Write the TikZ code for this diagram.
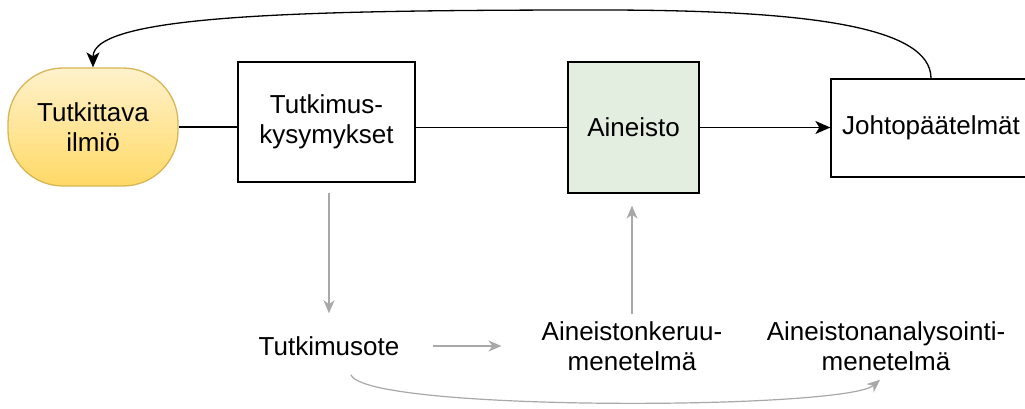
\documentclass[tikz,border=0pt]{standalone}
\usepackage{fontspec}
\setmainfont{Liberation Sans}
\usetikzlibrary{calc,positioning,arrows.meta}
\definecolor{ilmiotop}{HTML}{FFF2CC}
\definecolor{ilmiobot}{HTML}{FFD966}
\definecolor{ilmioline}{HTML}{D6B656}
\definecolor{aineistogreen}{HTML}{E3EEE0}
\definecolor{gray400}{HTML}{A8A8A8}

\tikzset{
    laatikko/.style={
        draw=black,
        line width=1.3pt,
        fill=white,
        align=center,
        inner sep=0pt,
        font=\fontsize{26}{30}\selectfont
    },
    teksti/.style={
        align=center,
        inner sep=3pt,
        font=\fontsize{26}{30}\selectfont
    },
    musta/.style={draw=black, line width=1.3pt},
    mustanuoli/.style={musta, -{Stealth[length=15pt,width=13pt,inset=4pt]}},
    harmaanuoli/.style={draw=gray400, line width=1.2pt, -{Stealth[length=13pt,width=11pt,inset=4pt]}}
}

\begin{document}
\begin{tikzpicture}[x=1pt,y=-1pt]
    \clip (0,0) rectangle (1025,409);

    % Ylarivi
    \node[
        laatikko,
        draw=ilmioline,
        top color=ilmiotop,
        bottom color=ilmiobot,
        rounded corners=55pt,
        minimum width=170pt,
        minimum height=118pt
    ] (ilmio) at (93,127) {Tutkittava\\ilmiö};

    \node[
        laatikko,
        minimum width=177pt,
        minimum height=120pt
    ] (kysymykset) at (326.5,122) {Tutkimus-\\kysymykset};

    \node[
        laatikko,
        fill=aineistogreen,
        minimum width=131pt,
        minimum height=131pt
    ] (aineisto) at (633.5,127.5) {Aineisto};

    \node[
        laatikko,
        minimum width=200pt,
        minimum height=98pt
    ] (johto) at (931,128) {Johtopäätelmät};

    % Alarivi
    \node[teksti] (tutkimusote) at (329,346) {Tutkimusote};
    \node[teksti] (keruu) at (632,346) {Aineistonkeruu-\\menetelmä};
    \node[teksti] (analyysi) at (886,346) {Aineistonanalysointi-\\menetelmä};

    % Yhteydet
    \draw[musta] (ilmio.east) -- (kysymykset.west |- ilmio.east);
    \draw[musta] (kysymykset.east |- aineisto.west) -- (aineisto.west);
    \draw[mustanuoli] (aineisto.east) -- (johto.west |- aineisto.east);
    \coordinate (ylin) at (600,10);
    \draw[mustanuoli] (johto.north) .. controls (931,25) and (800,10) .. (ylin)
        .. controls (300,10) and (93,15) .. (ilmio.north);

    \draw[harmaanuoli, shorten <=10pt, shorten >=20pt]
        (tutkimusote.north |- kysymykset.south) -- (tutkimusote.north);
    \draw[harmaanuoli, shorten <=30pt, shorten >=37pt]
        (tutkimusote.east) -- (keruu.west |- tutkimusote.east);
    \draw[harmaanuoli, shorten <=4pt, shorten >=12pt]
        (keruu.north) -- (keruu.north |- aineisto.south);
    \draw[harmaanuoli]
        ($(tutkimusote.south)+(22,16)$) .. controls (365,412) and (845,410) ..
        ($(analyysi.south)+(-6,6)$);
\end{tikzpicture}
\end{document}
